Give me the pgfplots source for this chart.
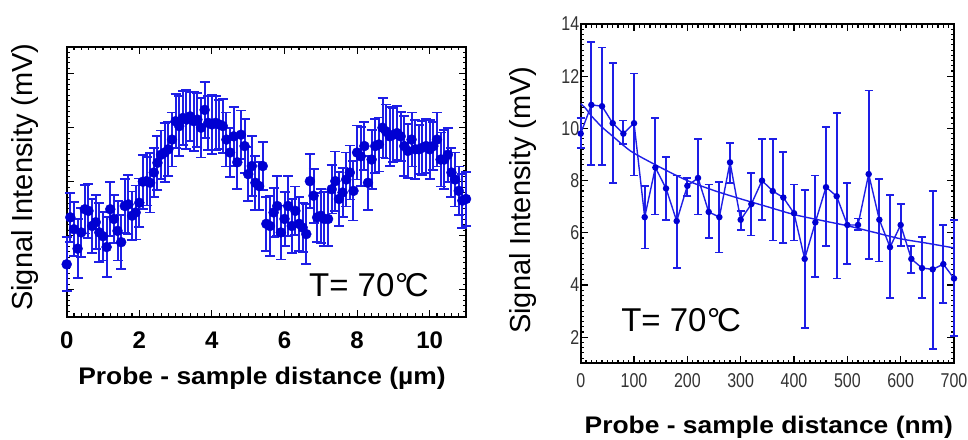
\documentclass[border=0pt]{standalone}
\usepackage{fontspec}
\setmainfont{Liberation Sans}
\usepackage{graphicx}
\usepackage{pgfplots}
\usepackage{pgfplotstable}
\pgfplotsset{compat=1.18}

\definecolor{markblue}{RGB}{0,0,210}
\definecolor{barblue}{RGB}{30,30,230}

% left panel: distance (um), signal, half error
\pgfplotstableread{
x y e
0.0 1.47 0.50
0.1 2.34 0.45
0.2 2.12 0.50
0.3 1.76 0.55
0.4 2.06 0.45
0.5 2.49 0.45
0.6 2.46 0.50
0.7 2.18 0.50
0.8 2.25 0.50
0.9 2.06 0.55
1.0 1.99 0.45
1.1 1.79 0.55
1.2 2.49 0.50
1.3 2.31 0.45
1.4 2.09 0.55
1.5 1.88 0.50
1.6 2.55 0.50
1.7 2.58 0.55
1.8 2.37 0.45
1.9 2.43 0.50
2.0 2.61 0.45
2.1 3.00 0.50
2.2 3.01 0.45
2.3 2.98 0.55
2.4 3.17 0.45
2.5 3.35 0.50
2.6 3.50 0.45
2.7 3.54 0.55
2.8 3.60 0.50
2.9 3.78 0.50
3.0 4.12 0.50
3.1 4.03 0.55
3.2 4.18 0.50
3.3 4.15 0.55
3.4 4.21 0.45
3.5 4.12 0.55
3.6 4.15 0.50
3.7 4.00 0.55
3.8 4.33 0.52
3.9 4.09 0.50
4.0 4.06 0.55
4.1 4.09 0.50
4.2 4.06 0.45
4.3 4.03 0.50
4.4 3.78 0.50
4.5 3.54 0.45
4.6 3.84 0.55
4.7 3.36 0.50
4.8 3.87 0.45
4.9 3.66 0.50
5.0 3.14 0.50
5.1 3.29 0.55
5.2 2.98 0.50
5.3 2.92 0.45
5.4 3.29 0.45
5.5 2.22 0.50
5.6 2.18 0.55
5.7 2.43 0.45
5.8 2.55 0.55
5.9 2.06 0.50
6.0 2.31 0.50
6.1 2.55 0.55
6.2 2.18 0.50
6.3 2.46 0.45
6.4 2.22 0.50
6.5 2.15 0.45
6.6 2.03 0.55
6.7 3.01 0.50
6.8 2.74 0.50
6.9 2.34 0.45
7.0 2.37 0.50
7.1 2.31 0.50
7.2 2.31 0.50
7.3 2.86 0.45
7.4 3.01 0.55
7.5 2.68 0.50
7.6 2.80 0.45
7.7 3.04 0.50
7.8 3.17 0.50
7.9 2.83 0.55
8.0 3.54 0.50
8.1 3.47 0.55
8.2 3.66 0.45
8.3 2.98 0.50
8.4 3.41 0.55
8.5 3.66 0.50
8.6 3.69 0.50
8.7 4.00 0.55
8.8 3.93 0.50
8.9 3.84 0.55
9.0 3.87 0.50
9.1 3.90 0.50
9.2 3.84 0.45
9.3 3.66 0.55
9.4 3.57 0.50
9.5 3.78 0.50
9.6 3.60 0.55
9.7 3.60 0.45
9.8 3.63 0.50
9.9 3.66 0.50
10.0 3.60 0.55
10.1 3.66 0.45
10.2 3.78 0.50
10.3 3.41 0.50
10.4 3.41 0.55
10.5 3.50 0.50
10.6 3.17 0.45
10.7 3.04 0.50
10.8 2.83 0.45
10.9 2.65 0.50
11.0 2.68 0.50
}\leftdata

% right panel: distance (nm), signal, error up, error down
\pgfplotstableread{
x y ep em
0 9.80 0.60 0.55
20 10.90 2.40 2.30
40 10.85 2.25 2.25
60 10.20 2.30 2.30
80 9.80 0.50 0.40
100 10.20 1.90 2.00
120 6.60 1.20 1.20
140 8.50 1.90 1.80
160 7.70 1.20 1.20
180 6.45 1.75 1.80
200 7.80 0.30 0.40
220 8.10 1.50 1.40
240 6.80 1.05 1.00
260 6.60 1.35 1.35
280 8.70 0.75 0.80
300 6.50 0.34 0.40
320 7.10 1.20 1.20
340 8.00 1.60 1.50
360 7.60 2.00 1.90
380 7.35 1.75 1.75
400 6.75 1.10 1.05
420 5.00 2.65 2.65
440 6.40 1.80 2.10
460 7.75 2.30 2.25
480 7.40 3.20 3.15
500 6.30 1.60 1.50
520 6.30 0.25 0.20
540 8.25 3.20 3.25
560 6.50 1.55 1.60
580 5.45 2.00 1.95
600 6.30 0.80 0.80
620 5.00 0.50 0.55
640 4.65 1.20 1.15
660 4.60 3.00 3.05
680 4.80 1.50 1.50
700 4.25 2.25 2.20
}\rightdata

% fitted curve
\pgfplotstableread{
x y
0 10.95
10 10.75
20 10.48
40 10.05
60 9.70
80 9.35
100 9.05
150 8.50
200 8.00
250 7.62
300 7.30
350 7.00
400 6.70
450 6.48
500 6.27
550 6.02
600 5.77
650 5.60
700 5.42
}\fitdata

\pgfplotsset{
  panel/.style={
    scale only axis,
    anchor=south west,
    clip=false,
    tick align=inside,
    major tick length=7pt,
    minor tick length=3.5pt,
    axis line style={line width=2pt},
    every tick/.style={black, line width=1.1pt},
    label style={font=\fontsize{29}{32}\selectfont},
    /pgf/number format/assume math mode=true,
  },
}

\begin{document}
\begin{tikzpicture}
\path[use as bounding box] (0pt,0pt) rectangle (968pt,-439pt);

\begin{axis}[panel,
    at={(66.7pt,-316.7pt)},
    width=399.3pt, height=270pt,
    xmin=0, xmax=11, ymin=0.5, ymax=5.5,
    xtick={0,2,...,12}, ytick={0,...,6}, yticklabels={},
    minor x tick num=9, minor y tick num=9,
    xticklabel style={font=\fontsize{24}{26}\selectfont\bfseries, yshift=-12pt},
    xlabel={\scalebox{1.1}[1]{\fontsize{24}{28}\selectfont\bfseries Probe - sample distance (µm)}},
    xlabel style={at={(axis description cs:0.489,-0.228)}, anchor=center},
    ylabel={Signal Intensity (mV)},
    ylabel style={at={(axis description cs:-0.104,0.517)}, anchor=center},
  ]
  \addplot[only marks, mark=*, mark size=5pt, color=markblue,
    mark options={draw=markblue, fill=markblue},
    error bars/.cd, y dir=both, y explicit,
    error bar style={barblue, line width=2pt},
    error mark options={rotate=90, mark size=5pt, barblue, line width=1.8pt}]
    table[x=x, y=y, y error=e] {\leftdata};
  \node at (axis description cs:0.757,0.117)
    {\fontsize{33}{36}\selectfont T= 70\kern0.02em°\kern-0.1em C};
\end{axis}

\begin{axis}[panel,
    at={(580.7pt,-363.3pt)},
    width=373.3pt, height=339.3pt,
    xmin=0, xmax=700, ymin=1, ymax=14,
    xtick={0,100,...,700}, ytick={0,2,...,14},
    minor x tick num=9, minor y tick num=9,
    tick label style={font=\fontsize{20}{22}\selectfont, black!80},
    xticklabel={\scalebox{0.8}[1]{\pgfmathprintnumber{\tick}}},
    yticklabel={\scalebox{0.8}[1]{\pgfmathprintnumber{\tick}}},
    xticklabel style={yshift=-7pt},
    yticklabel style={xshift=2pt},
    xlabel={\scalebox{1.1}[1]{\fontsize{24}{28}\selectfont\bfseries Probe - sample distance (nm)}},
    xlabel style={at={(axis description cs:0.504,-0.188)}, anchor=center},
    ylabel={Signal Intensity (mV)},
    ylabel style={at={(axis description cs:-0.1546,0.481)}, anchor=center},
  ]
  \addplot[barblue, line width=1.4pt, smooth] table[x=x, y=y] {\fitdata};
  \addplot[barblue, line width=1.4pt, mark=*, mark size=2.5pt,
    mark options={fill=markblue, draw=markblue},
    error bars/.cd, y dir=both, y explicit,
    error bar style={barblue, line width=2pt},
    error mark options={rotate=90, mark size=4pt, barblue, line width=1.6pt}]
    table[x=x, y=y, y error plus=ep, y error minus=em] {\rightdata};
  \node at (axis description cs:0.269,0.128)
    {\fontsize{33}{36}\selectfont T= 70\kern0.02em°\kern-0.1em C};
\end{axis}
\end{tikzpicture}
\end{document}
